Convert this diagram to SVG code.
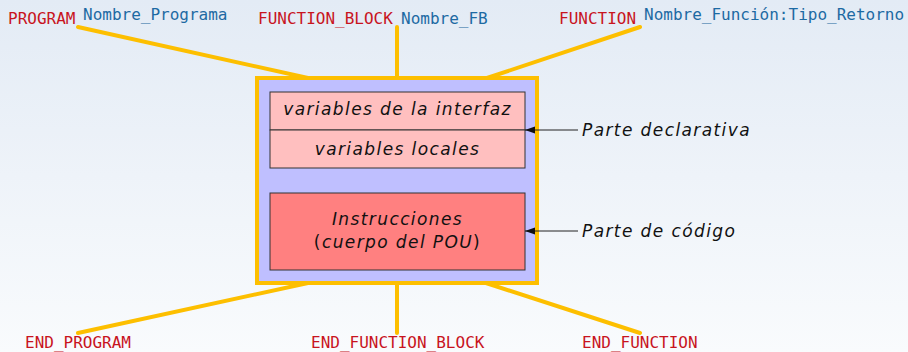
<svg xmlns="http://www.w3.org/2000/svg" width="908" height="352" viewBox="0 0 908 352">
  <defs>
    <linearGradient id="bg" x1="0" y1="0" x2="0" y2="1">
      <stop offset="0" stop-color="#e3ebf5"/>
      <stop offset="1" stop-color="#f9fbfd"/>
    </linearGradient>
    <marker id="tip" viewBox="0 0 10 10" refX="10" refY="5" markerWidth="10" markerHeight="10" markerUnits="userSpaceOnUse" orient="auto">
      <path d="M0,1.5 L10,5 L0,8.5 z" fill="#111"/>
    </marker>
    <style>
      .kw { font-family: "DejaVu Sans Mono", monospace; font-size: 16px; fill: #c8141e; }
      .nm { font-family: "DejaVu Sans Mono", monospace; font-size: 16px; fill: #1d6aa3; }
      .it { font-family: "DejaVu Sans", sans-serif; font-size: 17px; font-style: italic; fill: #111; letter-spacing: 1.4px; }
      .up { font-style: normal; }
      .lead { stroke: #fdbf00; stroke-width: 4; stroke-linecap: round; fill: none; }
      .ptr { stroke: #222; stroke-width: 1; fill: none; marker-end: url(#tip); }
      .sec { stroke: #333; stroke-width: 1; }
    </style>
  </defs>

  <rect x="0" y="0" width="908" height="352" fill="url(#bg)"/>

  <!-- leader lines from the keywords to the POU frame -->
  <g id="connectors">
    <line class="lead" x1="78" y1="27" x2="308" y2="78"/>
    <line class="lead" x1="397" y1="27" x2="397" y2="78"/>
    <line class="lead" x1="640" y1="27" x2="487" y2="78"/>
    <line class="lead" x1="308" y1="283" x2="78" y2="333"/>
    <line class="lead" x1="397" y1="283" x2="397" y2="333"/>
    <line class="lead" x1="486" y1="283" x2="640" y2="333"/>
  </g>

  <!-- POU frame -->
  <g id="pou">
    <rect x="257" y="78" width="280" height="205" fill="#bfbfff" stroke="#fdbf00" stroke-width="4"/>
  </g>

  <g id="decl">
    <rect class="sec" x="270" y="92" width="255" height="38" fill="#ffbfbf"/>
    <rect class="sec" x="270" y="130" width="255" height="38" fill="#ffbfbf"/>
    <text class="it" x="397.5" y="115" text-anchor="middle">variables de la interfaz</text>
    <text class="it" x="397.5" y="155" text-anchor="middle">variables locales</text>
  </g>

  <g id="code">
    <rect class="sec" x="270" y="193" width="255" height="77" fill="#ff8080"/>
    <text class="it" x="397.5" y="225" text-anchor="middle">Instrucciones</text>
    <text class="it" x="397.5" y="248" text-anchor="middle"><tspan class="up">(</tspan>cuerpo del POU<tspan class="up">)</tspan></text>
  </g>

  <!-- pointers to the two parts -->
  <g id="pointers">
    <line class="ptr" x1="578" y1="130" x2="525" y2="130"/>
    <line class="ptr" x1="578" y1="231" x2="525" y2="231"/>
  </g>

  <g id="labels">
    <text class="it" x="582" y="136">Parte declarativa</text>
    <text class="it" x="582" y="237">Parte de código</text>
  </g>

  <g id="header-program">
    <text class="kw" x="8" y="24">PROGRAM</text>
    <text class="nm" x="83" y="20">Nombre_Programa</text>
  </g>
  <g id="header-fb">
    <text class="kw" x="258" y="24">FUNCTION_BLOCK</text>
    <text class="nm" x="401" y="24">Nombre_FB</text>
  </g>
  <g id="header-function">
    <text class="kw" x="559" y="24">FUNCTION</text>
    <text class="nm" x="644" y="20">Nombre_Función:Tipo_Retorno</text>
  </g>

  <g id="footer-program"><text class="kw" x="25" y="348">END_PROGRAM</text></g>
  <g id="footer-fb"><text class="kw" x="311" y="348">END_FUNCTION_BLOCK</text></g>
  <g id="footer-function"><text class="kw" x="582" y="348">END_FUNCTION</text></g>
</svg>
